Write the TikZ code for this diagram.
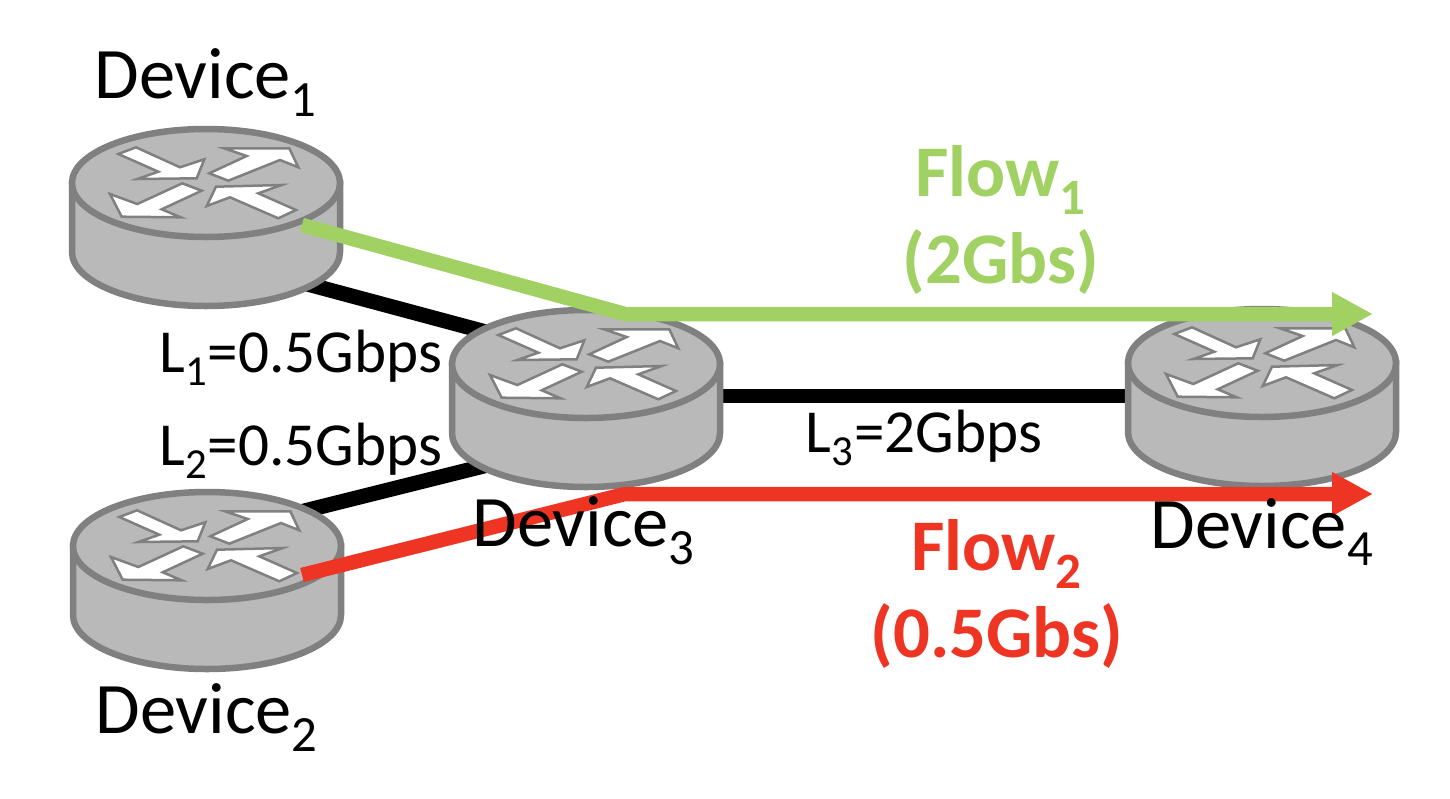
\documentclass[tikz,border=0pt]{standalone}
\usepackage{fontspec}
\setmainfont{Carlito}
\usepackage{xcolor}
\usetikzlibrary{positioning,arrows.meta,backgrounds}
\definecolor{routerfill}{HTML}{B9B9B9}
\definecolor{routerline}{HTML}{808080}
\definecolor{flowgreen}{HTML}{A0D162}
\definecolor{flowred}{HTML}{EE3524}
\tikzset{
  routerbody/.style={fill=routerfill,draw=routerline,line width=0.13cm},
  routerarrow/.style={fill=white,draw=routerline,line width=0.05cm},
  pics/router/.style={code={
    \node[minimum width=5.46cm,minimum height=3.56cm,inner sep=0pt] (-box) at (0,0) {};
    \coordinate (-nw) at (-85,-62);
    \coordinate (-ne) at (93,-68);
    \coordinate (-sw) at (-86,64);
    \coordinate (-se) at (90,64);
    \coordinate (-mid) at (0,-2);
    \path[routerbody] (-134,-34) -- (-134,35) arc[start angle=180,end angle=0,x radius=134,y radius=54]
      -- (134,-34) -- cycle;
    \path[routerbody] (0,-34) ellipse[x radius=134,y radius=54];
    \path[routerarrow] (-87.7,-63) -- (-70,-69.7) -- (-26,-49.7) -- (-1.7,-57.7) -- (-9.3,-38.7)
      -- (-68.7,-38) -- (-47.7,-45.3) -- cycle;
    \path[routerarrow] (3.3,-43.7) -- (40.7,-61) -- (18,-68.7) -- (83.3,-68.7) -- (92.3,-49.7)
      -- (74,-57) -- (22.3,-36.3) -- cycle;
    \path[routerarrow] (-96,-23) -- (-68.7,-13) -- (-23.7,-33.7) -- (-4.3,-26.3) -- (-44.3,-7.7)
      -- (-25.3,.3) -- (-84.3,-.3) -- cycle;
    \path[routerarrow] (.7,-11) -- (10,-30.3) -- (75.7,-32) -- (52.3,-23.7) -- (90,-7)
      -- (72.3,1.3) -- (24,-19.7) -- cycle;
  }},
}
\begin{document}
\begin{tikzpicture}[
    x=0.02cm,y=-0.02cm,
    devlabel/.style={inner sep=0pt,font=\fontsize{41.3}{45}\selectfont},
    linklabel/.style={inner sep=0pt,font=\fontsize{34.8}{38}\selectfont},
    flowlabel/.style={inner sep=0pt,align=center,font=\fontsize{41.4}{50}\selectfont\bfseries},
    link/.style={black,line width=0.28cm},
    flow/.style={line width=0.29cm,-{Triangle[length=0.82cm,width=0.82cm]}},
    node distance=5mm and 0mm,
  ]
    \useasboundingbox (0,0) rectangle (1450,798);
    \pic (D1) at (206,217) {router};
    \pic (D2) at (207,580) {router};
    \pic (D3) at (586,398) {router};
    \pic (D4) at (1262,397) {router};
    % links sit behind the routers
    \begin{scope}[on background layer]
      \draw[link,line width=0.3cm] (D1-se) -- (D3-nw);
      \draw[link,line width=0.3cm] (D2-ne) -- (D3-sw);
      \draw[link] (D3-mid) -- (D3-mid -| D4-mid);
    \end{scope}
    \coordinate (F1s) at (302,225);
    \coordinate (F1b) at (625,314);
    \coordinate (F1e) at (1373,314);
    \coordinate (F2s) at (302,575);
    \coordinate (F2b) at (625,494);
    \coordinate (F2e) at (1373,494);
    \draw[flow,flowgreen] (F1s) -- (F1b) -- (F1e);
    \draw[flow,flowred] (F2s) -- (F2b) -- (F2e);
    \node[devlabel,above=2.2mm of D1-box] (L1dev) {Device\textsubscript{1}};
    \node[devlabel,below=2.8mm of D2-box] (L2dev) {Device\textsubscript{2}};
    \node[devlabel] (L3dev) at (584,531) {Device\textsubscript{3}};
    \node[devlabel] (L4dev) at (1262,532) {Device\textsubscript{4}};
    \node[linklabel] (L1) at (301,358) {L\textsubscript{1}=0.5Gbps};
    \node[linklabel] (L2) at (301,451) {L\textsubscript{2}=0.5Gbps};
    \node[linklabel] (L3) at (924,438) {L\textsubscript{3}=2Gbps};
    \node[flowlabel,text=flowgreen] (F1) at (1001,220) {Flow\textsubscript{1}\\(2Gbs)};
    \node[flowlabel,text=flowred] (F2) at (997,594) {Flow\textsubscript{2}\\(0.5Gbs)};
  \end{tikzpicture}
\end{document}
